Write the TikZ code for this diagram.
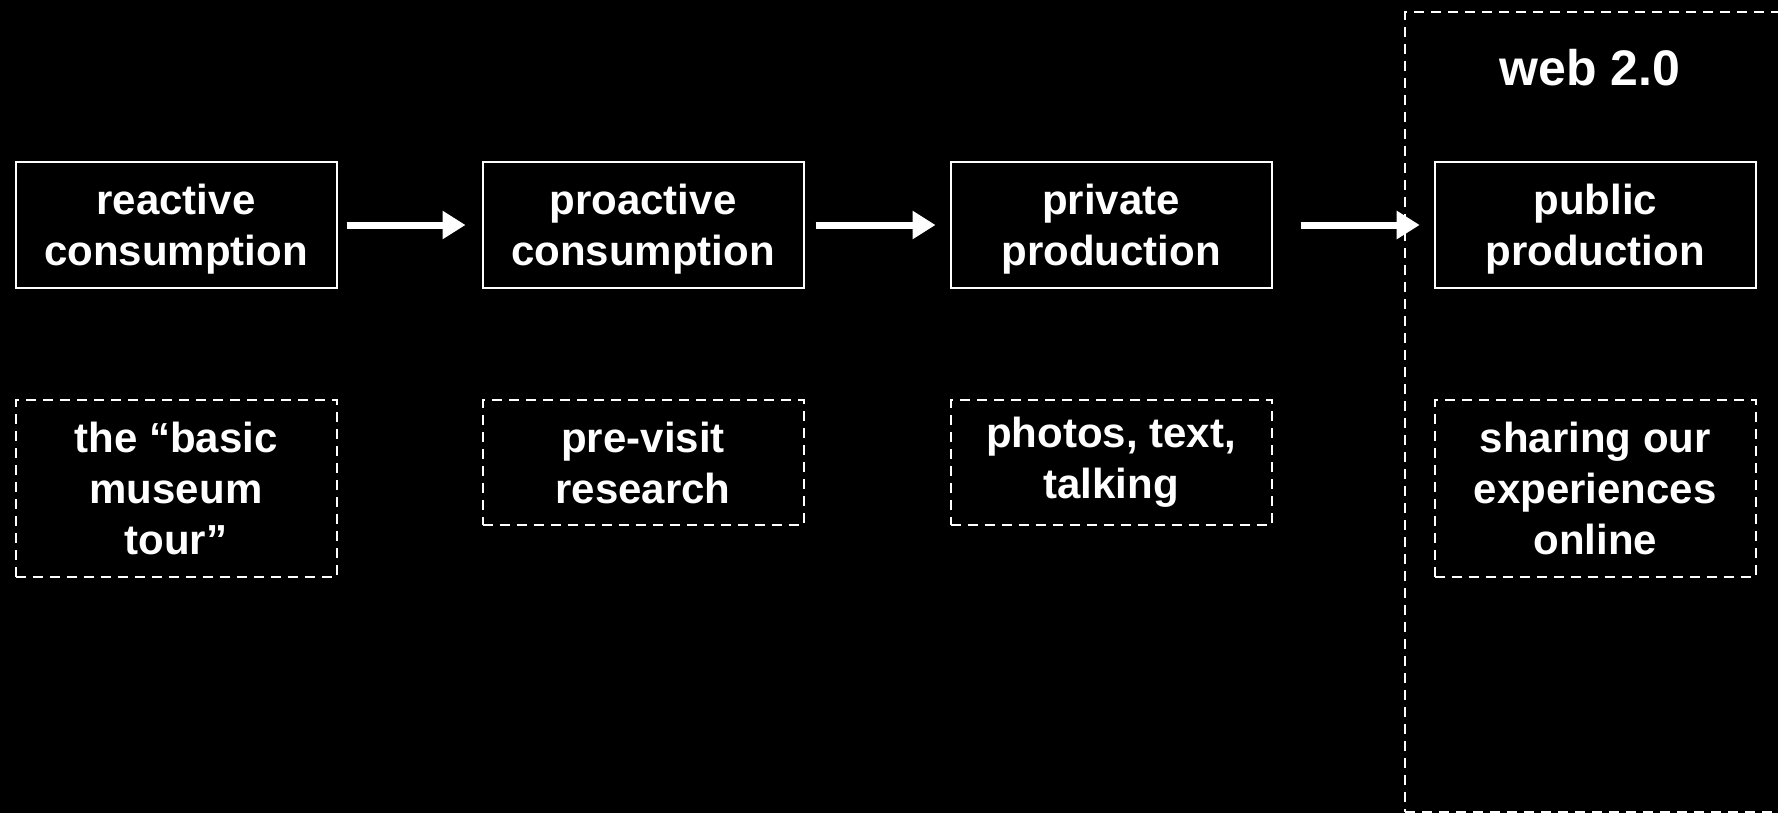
\documentclass[tikz,border=0pt]{standalone}
\usepackage{fontspec}
\setmainfont{Liberation Sans}
\usetikzlibrary{arrows.meta, positioning}

\begin{document}
\begin{tikzpicture}[x=0.5pt, y=-0.5pt,
  box/.style={draw=white, line width=1pt, text=white, align=center,
    font=\bfseries\fontsize{21}{25.5}\selectfont,
    minimum width=160.5pt, minimum height=62.5pt, inner sep=0pt},
  stage/.style={box, text depth=0pt},
  example/.style={box, dash pattern=on 5pt off 3.5pt},
  flow/.style={draw=white, line width=3.5pt, -{Triangle[length=11.5pt,width=13.5pt]}}]

\useasboundingbox (0,0) rectangle (1778,813);
\fill[black] (0,0) rectangle (1778,813);

% web 2.0 area
\node[draw=white, line width=1pt, dash pattern=on 5pt off 3.5pt, anchor=north west,
  minimum width=200pt, minimum height=400pt, inner sep=0pt] (web) at (1404,11) {};
\node[text=white, font=\bfseries\fontsize{25}{29}\selectfont] (webtitle) at (1590,68) {web 2.0};

% stages
\node[stage] (react) at (176,225) {reactive\\consumption};
\node[stage, right=72pt of react] (proact) {proactive\\consumption};
\node[stage, right=72.5pt of proact] (private) {private\\production};
\node[stage, right=80.6pt of private] (public) {public\\production};

% examples
\node[example, below=55.3pt of react, minimum height=88.5pt] (tour) {the “basic\\museum\\tour”};
\node[example, below=55.3pt of proact] (visit) {pre-visit\\research};
\node[example, below=55.3pt of private] (photos) {photos, text,\\talking};
\node[example, below=55.3pt of public, minimum height=88.5pt] (sharing) {sharing our\\experiences\\online};

\draw[flow, shorten <=4.5pt, shorten >=8pt] (react) -- (proact);
\draw[flow, shorten <=5.5pt, shorten >=7pt] (proact) -- (private);
\draw[flow, shorten <=14pt, shorten >=7pt] (private) -- (public);

\end{tikzpicture}
\end{document}
